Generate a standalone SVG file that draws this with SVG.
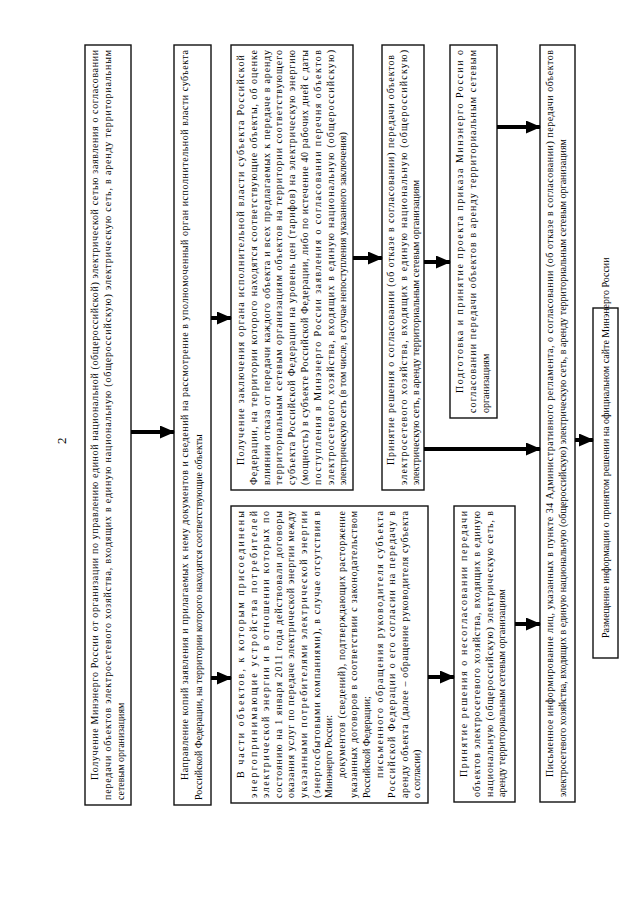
<svg xmlns="http://www.w3.org/2000/svg" width="640" height="905" viewBox="0 0 640 905">
<defs>
<style>
.box{fill:#fff;stroke:#111;stroke-width:1.4}
text{font-family:"Liberation Serif","Times New Roman",serif;font-size:10px;fill:#000}
.conn line{stroke:#000;stroke-width:4;marker-end:url(#ah)}
</style>
<marker id="ah" markerUnits="userSpaceOnUse" markerWidth="15" markerHeight="13" refX="14" refY="6.5" orient="auto"><path d="M0,0 L15,6.5 L0,13 z" fill="#000"/></marker>
</defs>
<rect width="640" height="905" fill="#fff"/>
<text transform="translate(66,444) rotate(-90)" style="font-size:13px">2</text>

<g id="n1" transform="translate(85,805) rotate(-90)">
<rect class="box" x="0" y="0" width="760" height="46"/>
<text x="25" y="13" textLength="730" lengthAdjust="spacing">Получение Минэнерго России от организации по управлению единой национальной (общероссийской) электрической сетью заявления о согласовании</text>
<text x="5" y="26" textLength="750" lengthAdjust="spacing">передачи объектов электросетевого хозяйства, входящих в единую национальную (общероссийскую) электрическую сеть, в аренду территориальным</text>
<text x="5" y="39">сетевым организациям</text>
</g>

<g id="n2" transform="translate(174,805) rotate(-90)">
<rect class="box" x="0" y="0" width="760" height="37"/>
<text x="25" y="14" textLength="730" lengthAdjust="spacing">Направление копий заявления и прилагаемых к нему документов и сведений на рассмотрение в уполномоченный орган исполнительной власти субъекта</text>
<text x="5" y="28">Российской Федерации, на территории которого находятся соответствующие объекты</text>
</g>

<g id="n3b" transform="translate(231,490) rotate(-90)">
<rect class="box" x="0" y="0" width="445" height="122"/>
<text x="25" y="13" textLength="410" lengthAdjust="spacing">Получение заключения органа исполнительной власти субъекта Российской</text>
<text x="5" y="25.8" textLength="435" lengthAdjust="spacing">Федерации, на территории которого находятся соответствующие объекты, об оценке</text>
<text x="5" y="38.6" textLength="435" lengthAdjust="spacing">влиянии отказа от передачи каждого объекта и всех предлагаемых к передаче в аренду</text>
<text x="5" y="51.4" textLength="435" lengthAdjust="spacing">территориальным сетевым организациям объектов на территории соответствующего</text>
<text x="5" y="64.2" textLength="435" lengthAdjust="spacing">субъекта Российской Федерации на уровень цен (тарифов) на электрическую энергию</text>
<text x="5" y="77" textLength="435" lengthAdjust="spacing">(мощность) в субъекте Российской Федерации, либо по истечение 40 рабочих дней с даты</text>
<text x="5" y="89.8" textLength="435" lengthAdjust="spacing">поступления в Минэнерго России заявления о согласовании перечня объектов</text>
<text x="5" y="102.6" textLength="435" lengthAdjust="spacing">электросетевого хозяйства, входящих в единую национальную (общероссийскую)</text>
<text x="5" y="115.4">электрическую сеть (в том числе, в случае непоступления указанного заключения)</text>
</g>

<g id="n3a" transform="translate(231,803) rotate(-90)">
<rect class="box" x="0" y="0" width="297" height="197"/>
<text x="25" y="13" textLength="267" lengthAdjust="spacing">В части объектов, к которым присоединены</text>
<text x="5" y="25.6" textLength="287" lengthAdjust="spacing">энергопринимающие устройства потребителей</text>
<text x="5" y="38.2" textLength="287" lengthAdjust="spacing">электрической энергии и в отношении которых по</text>
<text x="5" y="50.8" textLength="287" lengthAdjust="spacing">состоянию на 1 января 2011 года действовали договоры</text>
<text x="5" y="63.4" textLength="287" lengthAdjust="spacing">оказания услуг по передаче электрической энергии между</text>
<text x="5" y="76" textLength="287" lengthAdjust="spacing">указанными потребителями электрической энергии</text>
<text x="5" y="88.6" textLength="287" lengthAdjust="spacing">(энергосбытовыми компаниями), в случае отсутствия в</text>
<text x="5" y="101.2">Минэнерго России:</text>
<text x="25" y="113.8" textLength="267" lengthAdjust="spacing">документов (сведений), подтверждающих расторжение</text>
<text x="5" y="126.4" textLength="287" lengthAdjust="spacing">указанных договоров в соответствии с законодательством</text>
<text x="5" y="139">Российской Федерации;</text>
<text x="25" y="151.6" textLength="267" lengthAdjust="spacing">письменного обращения руководителя субъекта</text>
<text x="5" y="164.2" textLength="287" lengthAdjust="spacing">Российской Федерации о его согласии на передачу в</text>
<text x="5" y="176.8" textLength="287" lengthAdjust="spacing">аренду объекта (далее – обращение руководителя субъекта</text>
<text x="5" y="189.4">о согласии)</text>
</g>

<g id="n4b" transform="translate(382,490) rotate(-90)">
<rect class="box" x="0" y="0" width="445" height="42"/>
<text x="25" y="12" textLength="410" lengthAdjust="spacing">Принятие решения о согласовании (об отказе в согласовании) передачи объектов</text>
<text x="5" y="24.5" textLength="435" lengthAdjust="spacing">электросетевого хозяйства, входящих в единую национальную (общероссийскую)</text>
<text x="5" y="37">электрическую сеть, в аренду территориальным сетевым организациям</text>
</g>

<g id="n5" transform="translate(450,418) rotate(-90)">
<rect class="box" x="0" y="0" width="373" height="47"/>
<text x="25" y="13" textLength="343" lengthAdjust="spacing">Подготовка и принятие проекта приказа Минэнерго России о</text>
<text x="5" y="26" textLength="363" lengthAdjust="spacing">согласовании передачи объектов в аренду территориальным сетевым</text>
<text x="5" y="39">организациям</text>
</g>

<g id="n4a" transform="translate(454,802) rotate(-90)">
<rect class="box" x="0" y="0" width="296" height="61"/>
<text x="25" y="13" textLength="266" lengthAdjust="spacing">Принятие решения о несогласовании передачи</text>
<text x="5" y="25.8" textLength="286" lengthAdjust="spacing">объектов электросетевого хозяйства, входящих в единую</text>
<text x="5" y="38.6" textLength="286" lengthAdjust="spacing">национальную (общероссийскую) электрическую сеть, в</text>
<text x="5" y="51.4">аренду территориальным сетевым организациям</text>
</g>

<g id="n6" transform="translate(540,802) rotate(-90)">
<rect class="box" x="0" y="0" width="757" height="35"/>
<text x="25" y="13" textLength="727" lengthAdjust="spacing">Письменное информирование лиц, указанных в пункте 34 Административного регламента, о согласовании (об отказе в согласовании) передачи объектов</text>
<text x="5" y="26">электросетевого хозяйства, входящих в единую национальную (общероссийскую) электрическую сеть, в аренду территориальным сетевым организациям</text>
</g>

<g id="n7" transform="translate(593,658) rotate(-90)">
<rect class="box" x="0" y="0" width="350" height="25"/>
<text x="20" y="16">Размещение информации о принятом решении на официальном сайте Минэнерго России</text>
</g>

<g id="connectors" class="conn">
<line x1="131" y1="432" x2="174" y2="432"/>
<line x1="211" y1="318" x2="231" y2="318"/>
<line x1="211" y1="678" x2="231" y2="678"/>
<line x1="353" y1="258" x2="382" y2="258"/>
<line x1="424" y1="262" x2="450" y2="262"/>
<line x1="424" y1="449" x2="540" y2="449"/>
<line x1="497" y1="127" x2="540" y2="127"/>
<line x1="428" y1="677" x2="454" y2="677"/>
<line x1="515" y1="624" x2="540" y2="624"/>
<line x1="575" y1="440" x2="593" y2="440"/>
</g>
</svg>
